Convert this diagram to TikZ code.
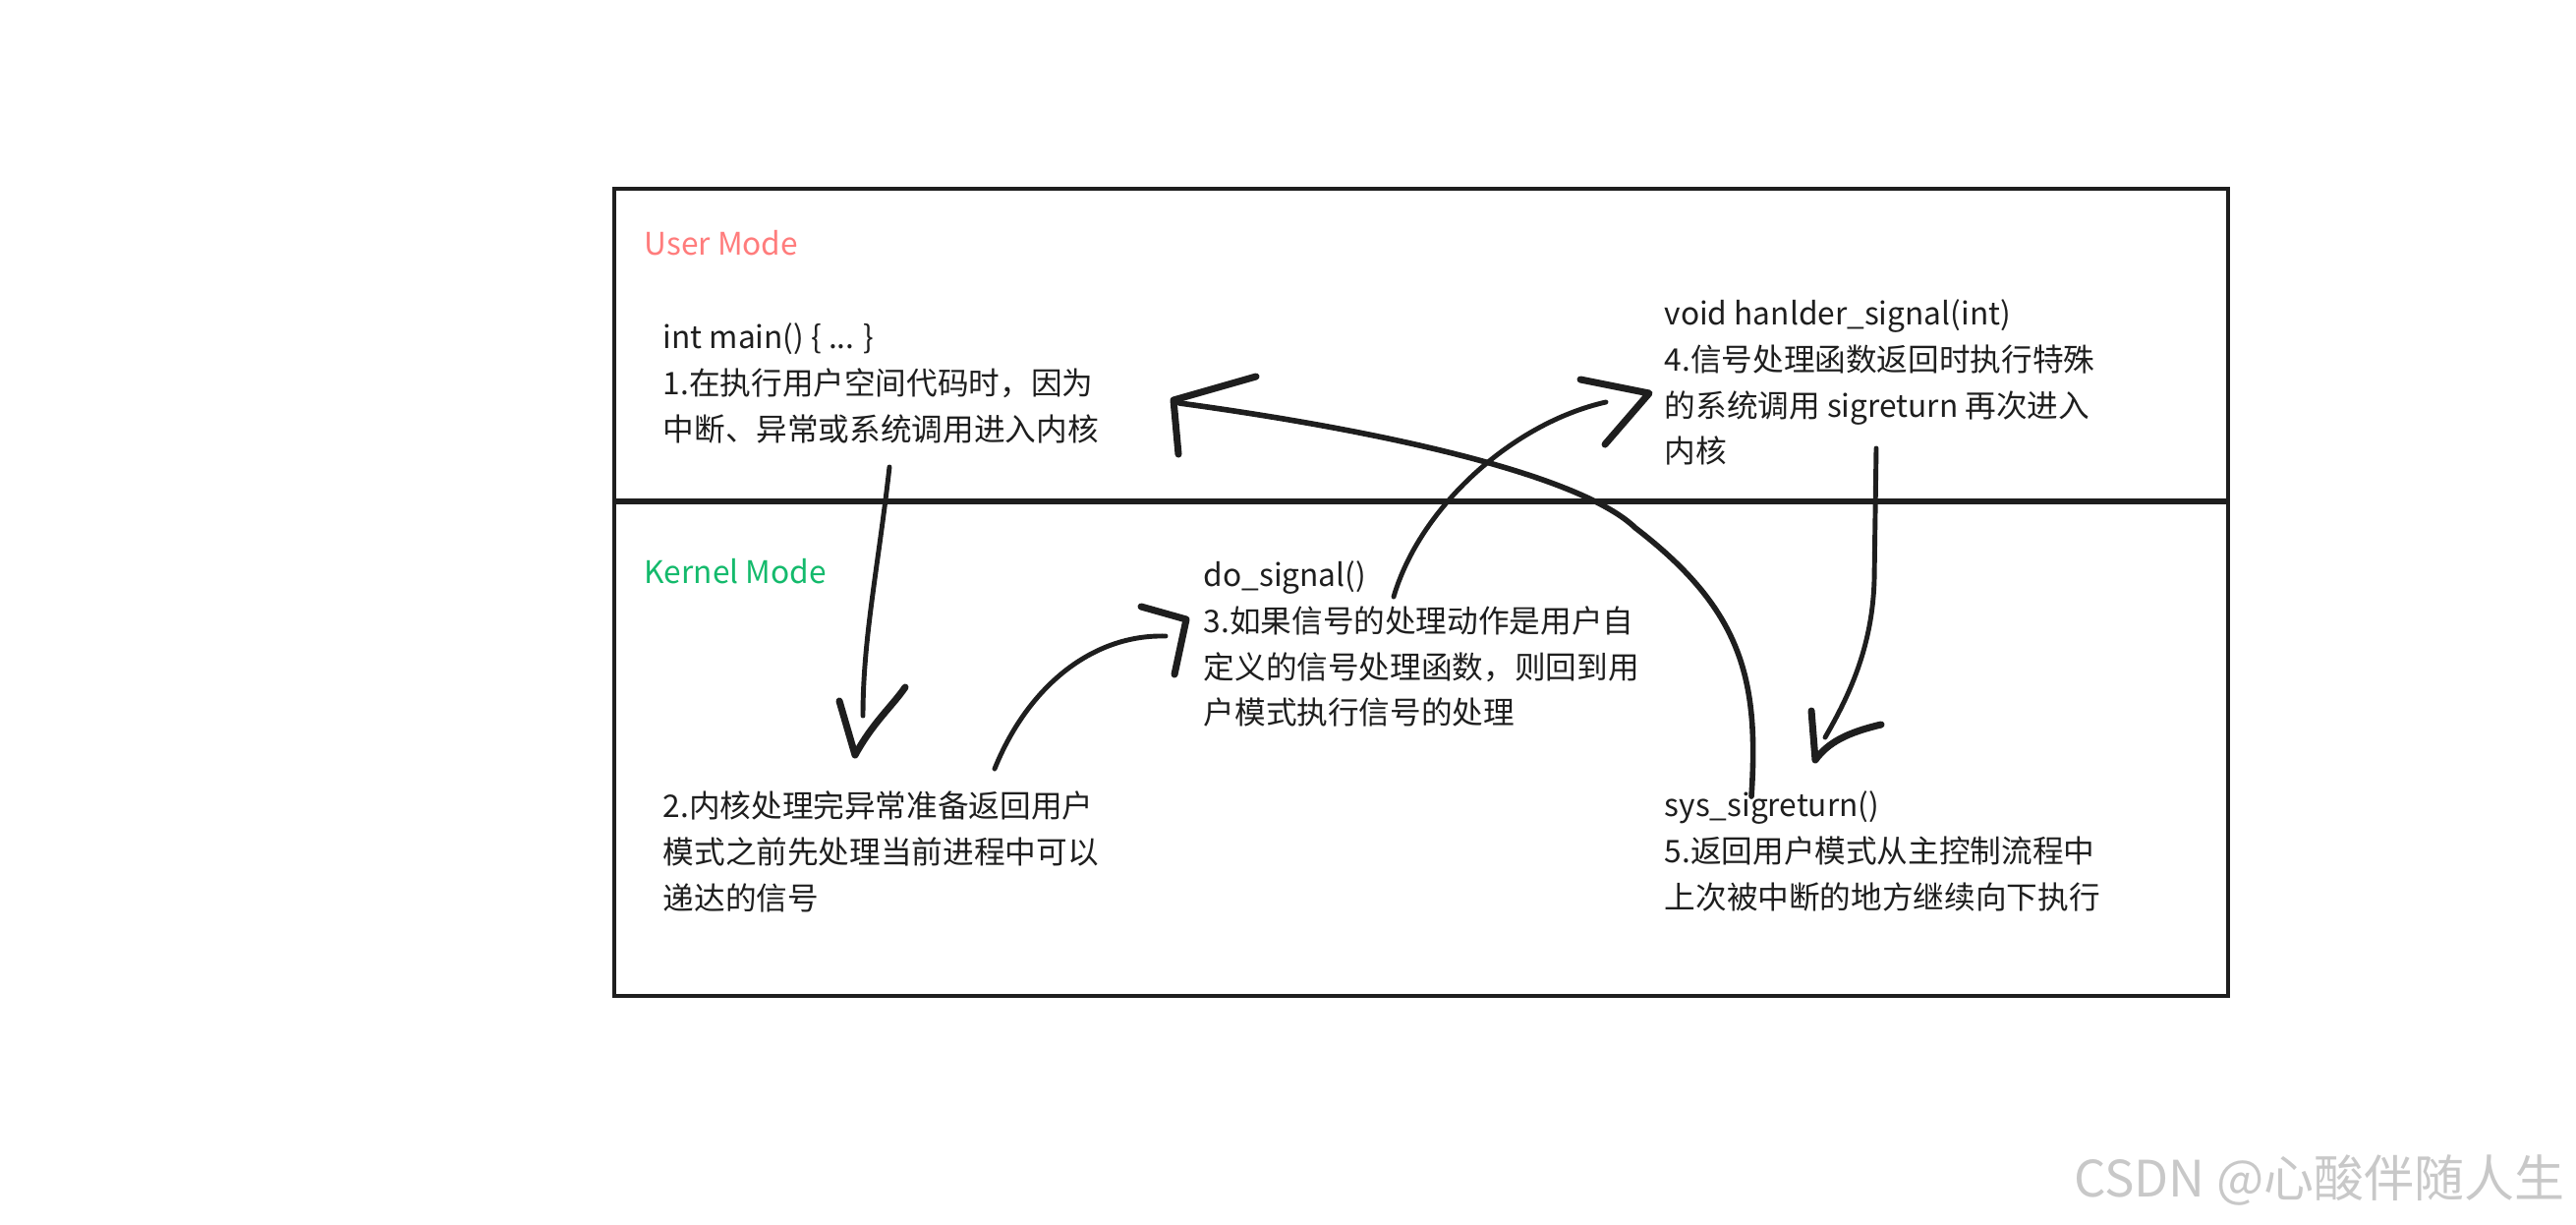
\documentclass[tikz,border=0pt]{standalone}
\usepackage{fontspec}
\setmainfont{Noto Sans CJK SC}
\usetikzlibrary{positioning}
\definecolor{userred}{HTML}{FF7C7C}
\definecolor{kernelgreen}{HTML}{14BA6C}
\definecolor{ink}{HTML}{1E1E1E}
\definecolor{wmgray}{HTML}{C8C8C8}

\begin{document}
\begin{tikzpicture}[
        x=0.01cm, y=-0.01cm,
        mode/.style={anchor=north west, inner sep=0pt, font=\fontsize{9pt}{13.3pt}\selectfont},
        desc/.style={anchor=north west, inner sep=0pt, align=left, text=ink, font=\fontsize{9pt}{13.3pt}\selectfont},
        frame/.style={draw=ink, line width=1.2pt},
        shaft/.style={draw=ink, line width=1.4pt, line cap=round},
        head/.style={draw=ink, line width=2pt, line cap=round, line join=round}
    ]
        \useasboundingbox (0,0) rectangle (2621,1245);

        % the two modes
        \draw[frame] (625,192) rectangle (2267,1013);
        \draw[frame, line width=1.6pt] (625,510) -- (2267,510);
        \node[mode, text=userred] (User) at (655,234) {User Mode};
        \node[mode, text=kernelgreen] (Kernel) at (655,568) {Kernel Mode};

        % the five steps
        \node[desc] (Main) at (674,328) {int main() \{ ... \}\\1.在执行用户空间代码时，因为\\中断、异常或系统调用进入内核};
        \node[desc] (Deliver) at (674,804) {2.内核处理完异常准备返回用户\\模式之前先处理当前进程中可以\\递达的信号};
        \node[desc] (DoSignal) at (1224,570) {do\_signal()\\3.如果信号的处理动作是用户自\\定义的信号处理函数，则回到用\\户模式执行信号的处理};
        \node[desc] (Handler) at (1693,304) {void hanlder\_signal(int)\\4.信号处理函数返回时执行特殊\\的系统调用 sigreturn 再次进入\\内核};
        \node[desc] (SigReturn) at (1693,804) {sys\_sigreturn()\\5.返回用户模式从主控制流程中\\上次被中断的地方继续向下执行};

        % free ends of the hand drawn arrows
        \coordinate (trapOut) at (905,475);
        \coordinate (trapIn) at (878,728);
        \coordinate (deliverOut) at (1012,782);
        \coordinate (deliverIn) at (1186,647);
        \coordinate (doOut) at (1418,607);
        \coordinate (doIn) at (1634,409);
        \coordinate (handlerOut) at (1909,456);
        \coordinate (handlerIn) at (1857,750);
        \coordinate (returnOut) at (1782,810);
        \coordinate (returnIn) at (1200,410);

        \draw[shaft] (trapOut) .. controls (893,580) and (878,650) .. (trapIn);
        \draw[head] (854,713) -- (870,768) .. controls (888,735) and (908,718) .. (921,699);

        \draw[shaft] (deliverOut) .. controls (1045,700) and (1110,645) .. (deliverIn);
        \draw[head] (1161,617) -- (1207,630) -- (1195,686);

        \draw[shaft] (doOut) .. controls (1445,515) and (1540,430) .. (doIn);
        \draw[head] (1608,386) -- (1678,400) -- (1633,452);

        \draw[shaft] (handlerOut) -- (1907,590) .. controls (1905,660) and (1880,710) .. (handlerIn);
        \draw[head] (1843,723) -- (1847,773) .. controls (1860,755) and (1880,745) .. (1914,737);

        \draw[shaft, line width=1.6pt] (returnOut) .. controls (1790,690) and (1772,620) .. (1664,537)
            .. controls (1610,485) and (1420,440) .. (returnIn);
        \draw[head] (1278,383) -- (1194,407) -- (1199,462);

        \node[anchor=east, inner sep=0pt, text=wmgray, font=\fontsize{14.5pt}{16pt}\selectfont] (Mark) at (2610,1200) {CSDN @心酸伴随人生};
    \end{tikzpicture}
\end{document}
